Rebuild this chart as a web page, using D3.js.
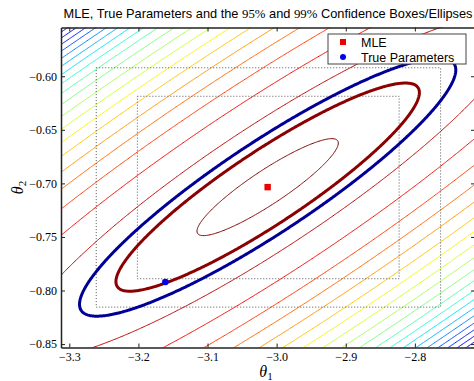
<!DOCTYPE html>
<html>
<head>
<meta charset="utf-8">
<script src="https://cdn.jsdelivr.net/npm/d3@7"></script>
<style>
  body { margin: 0; background: #fff; }
  svg { display: block; }
</style>
</head>
<body>
<div id="chart"></div>
<script>
// Estimate and true parameter values
var mle = [-3.013, -0.7035];
var trueParams = [-3.161, -0.792];

// Standard deviations and correlation of the estimate (read off the ellipses)
var sd = [0.0897, 0.0397];
var rho = 0.908;

// Contour levels of the quadratic form, innermost first
var levels = [1.3, 16.3, 31.5, 47, 61.5, 76, 91, 105.5, 120.5, 136, 151.5,
              166.5, 180.5, 194, 207, 219.5, 231.5, 243, 254, 264.5, 274.5];

// Chi-square (2 dof) quantiles for the 95% and 99% ellipses
var confLevels = [5.991, 9.210];

// Confidence boxes: [theta1 low, theta1 high, theta2 low, theta2 high]
var box95 = [-3.2015, -2.8228, -0.789, -0.6187];
var box99 = [-3.261, -2.7628, -0.8155, -0.5921];

// Axis limits and ticks
var xDomain = [-3.312, -2.713];
var yDomain = [-0.8532, -0.5545];
var xTicks = [-3.3, -3.2, -3.1, -3.0, -2.9, -2.8];
var yTicks = [-0.85, -0.80, -0.75, -0.70, -0.65, -0.60];

var width = 474, height = 381;
var plot = { left: 61, right: 475, top: 27.5, bottom: 347.5 };

var svg = d3.select("#chart").append("svg")
  .attr("width", width)
  .attr("height", height);

var x = d3.scaleLinear().domain(xDomain).range([plot.left, plot.right]);
var y = d3.scaleLinear().domain(yDomain).range([plot.bottom, plot.top]);

// Matplotlib "jet" colormap, one channel per scale
var jetR = d3.scaleLinear().domain([0, 0.35, 0.66, 0.89, 1]).range([0, 0, 1, 1, 0.5]);
var jetG = d3.scaleLinear().domain([0, 0.125, 0.375, 0.64, 0.91, 1]).range([0, 0, 1, 1, 0, 0]);
var jetB = d3.scaleLinear().domain([0, 0.11, 0.34, 0.65, 1]).range([0.5, 1, 1, 0, 0]);
function jet(t) {
  return d3.rgb(jetR(t) * 255, jetG(t) * 255, jetB(t) * 255).toString();
}

// Quadratic form of the estimate's covariance
function quad(t1, t2) {
  var u = (t1 - mle[0]) / sd[0];
  var v = (t2 - mle[1]) / sd[1];
  return (u * u - 2 * rho * u * v + v * v) / (1 - rho * rho);
}

// Grid a bit larger than the axes so contour edges stay outside the clip
var ext = 0.15;
var gx0 = xDomain[0] - ext * (xDomain[1] - xDomain[0]);
var gx1 = xDomain[1] + ext * (xDomain[1] - xDomain[0]);
var gy0 = yDomain[0] - ext * (yDomain[1] - yDomain[0]);
var gy1 = yDomain[1] + ext * (yDomain[1] - yDomain[0]);
var n = 460, m = 360;
var dx = (gx1 - gx0) / (n - 1), dy = (gy1 - gy0) / (m - 1);
var values = new Float64Array(n * m);
for (var j = 0; j < m; j++) {
  for (var i = 0; i < n; i++) {
    values[j * n + i] = -quad(gx0 + i * dx, gy0 + j * dy);
  }
}

var proj = d3.geoTransform({
  point: function(px, py) {
    this.stream.point(x(gx0 + (px - 0.5) * dx), y(gy0 + (py - 0.5) * dy));
  }
});
var path = d3.geoPath(proj);

svg.append("clipPath").attr("id", "clip")
  .append("rect")
  .attr("x", plot.left).attr("y", plot.top)
  .attr("width", plot.right - plot.left)
  .attr("height", plot.bottom - plot.top);

var g = svg.append("g").attr("clip-path", "url(#clip)");

// Thin contour lines, coloured by level index (innermost dark red)
var contours = d3.contours().size([n, m])
  .thresholds(levels.map(function(l) { return -l; }))(values);
g.selectAll(".contour")
  .data(contours)
  .enter().append("path")
  .attr("class", "contour")
  .attr("d", path)
  .attr("fill", "none")
  .attr("stroke", function(d) {
    var k = levels.indexOf(-d.value);
    return jet(1 - k / (levels.length - 1));
  })
  .attr("stroke-width", 1);

// Confidence boxes
[box99, box95].forEach(function(b) {
  g.append("rect")
    .attr("x", x(b[0]))
    .attr("y", y(b[3]))
    .attr("width", x(b[1]) - x(b[0]))
    .attr("height", y(b[2]) - y(b[3]))
    .attr("fill", "none")
    .attr("stroke", "#555")
    .attr("stroke-width", 1)
    .attr("stroke-dasharray", "1,2");
});

// Confidence ellipses: 95% dark red, 99% dark blue
var ellipses = d3.contours().size([n, m])
  .thresholds(confLevels.map(function(l) { return -l; }))(values);
g.selectAll(".ellipse")
  .data(ellipses)
  .enter().append("path")
  .attr("class", "ellipse")
  .attr("d", path)
  .attr("fill", "none")
  .attr("stroke", function(d) {
    return Math.abs(d.value + confLevels[0]) < 1e-9 ? "#8b0000" : "#000096";
  })
  .attr("stroke-width", 3);

// Points
g.append("rect")
  .attr("x", x(mle[0]) - 3.2)
  .attr("y", y(mle[1]) - 3.2)
  .attr("width", 6.4).attr("height", 6.4)
  .attr("fill", "#ee0000");
g.append("circle")
  .attr("cx", x(trueParams[0]))
  .attr("cy", y(trueParams[1]))
  .attr("r", 3.3)
  .attr("fill", "#0000ee");

// Axes with inward ticks on all four sides
function styleAxis(sel) {
  sel.select(".domain").attr("stroke", "#222").attr("stroke-width", 1.5);
  sel.selectAll(".tick line").attr("stroke", "#222").attr("stroke-width", 1);
  sel.selectAll(".tick text")
    .attr("font-family", "'Liberation Serif', serif")
    .attr("font-size", 12)
    .attr("fill", "#000");
}

svg.append("g")
  .attr("transform", "translate(0," + plot.bottom + ")")
  .call(d3.axisBottom(x).tickValues(xTicks).tickFormat(d3.format(".1f"))
    .tickSize(-4).tickSizeOuter(0).tickPadding(5))
  .call(styleAxis);

svg.append("g")
  .attr("transform", "translate(" + plot.left + ",0)")
  .call(d3.axisLeft(y).tickValues(yTicks).tickFormat(d3.format(".2f"))
    .tickSize(-4).tickSizeOuter(0).tickPadding(4))
  .call(styleAxis);

svg.append("g")
  .attr("transform", "translate(0," + plot.top + ")")
  .call(d3.axisTop(x).tickValues(xTicks).tickFormat("")
    .tickSize(-4).tickSizeOuter(0))
  .call(styleAxis);

svg.append("g")
  .attr("transform", "translate(" + plot.right + ",0)")
  .call(d3.axisRight(y).tickValues(yTicks).tickFormat("")
    .tickSize(-4).tickSizeOuter(0))
  .call(styleAxis);

// Axis labels
var xl = svg.append("text")
  .attr("x", (plot.left + plot.right) / 2 - 2)
  .attr("y", 377)
  .attr("text-anchor", "middle")
  .attr("font-family", "'Liberation Serif', serif")
  .attr("font-size", 16);
xl.append("tspan").attr("font-style", "italic").text("θ");
xl.append("tspan").attr("font-size", 11).attr("dy", 3).text("1");

var yl = svg.append("text")
  .attr("transform", "translate(23," + ((plot.top + plot.bottom) / 2) + ") rotate(-90)")
  .attr("text-anchor", "middle")
  .attr("font-family", "'Liberation Serif', serif")
  .attr("font-size", 16);
yl.append("tspan").attr("font-style", "italic").text("θ");
yl.append("tspan").attr("font-size", 11).attr("dy", 3).text("2");

// Title
var title = svg.append("text")
  .attr("x", (plot.left + plot.right) / 2)
  .attr("y", 18)
  .attr("text-anchor", "middle")
  .attr("font-family", "'Liberation Sans', Arial, sans-serif")
  .attr("font-size", 12.8);
title.append("tspan").text("MLE, True Parameters and the ");
title.append("tspan").attr("font-family", "'Liberation Serif', serif").text("95%");
title.append("tspan").text(" and ");
title.append("tspan").attr("font-family", "'Liberation Serif', serif").text("99%");
title.append("tspan").text(" Confidence Boxes/Ellipses");

// Legend
var legend = svg.append("g").attr("transform", "translate(328,34)");
legend.append("rect")
  .attr("width", 138).attr("height", 30)
  .attr("fill", "#fff")
  .attr("stroke", "#444")
  .attr("stroke-width", 1);
legend.append("rect")
  .attr("x", 12).attr("y", 5).attr("width", 6).attr("height", 6)
  .attr("fill", "#ee0000");
legend.append("circle")
  .attr("cx", 15).attr("cy", 23).attr("r", 3)
  .attr("fill", "#0000ee");
legend.selectAll(".label")
  .data(["MLE", "True Parameters"])
  .enter().append("text")
  .attr("class", "label")
  .attr("x", 33)
  .attr("y", function(d, i) { return 12.5 + i * 15; })
  .attr("font-family", "'Liberation Sans', Arial, sans-serif")
  .attr("font-size", 12.5)
  .text(function(d) { return d; });
</script>
</body>
</html>
